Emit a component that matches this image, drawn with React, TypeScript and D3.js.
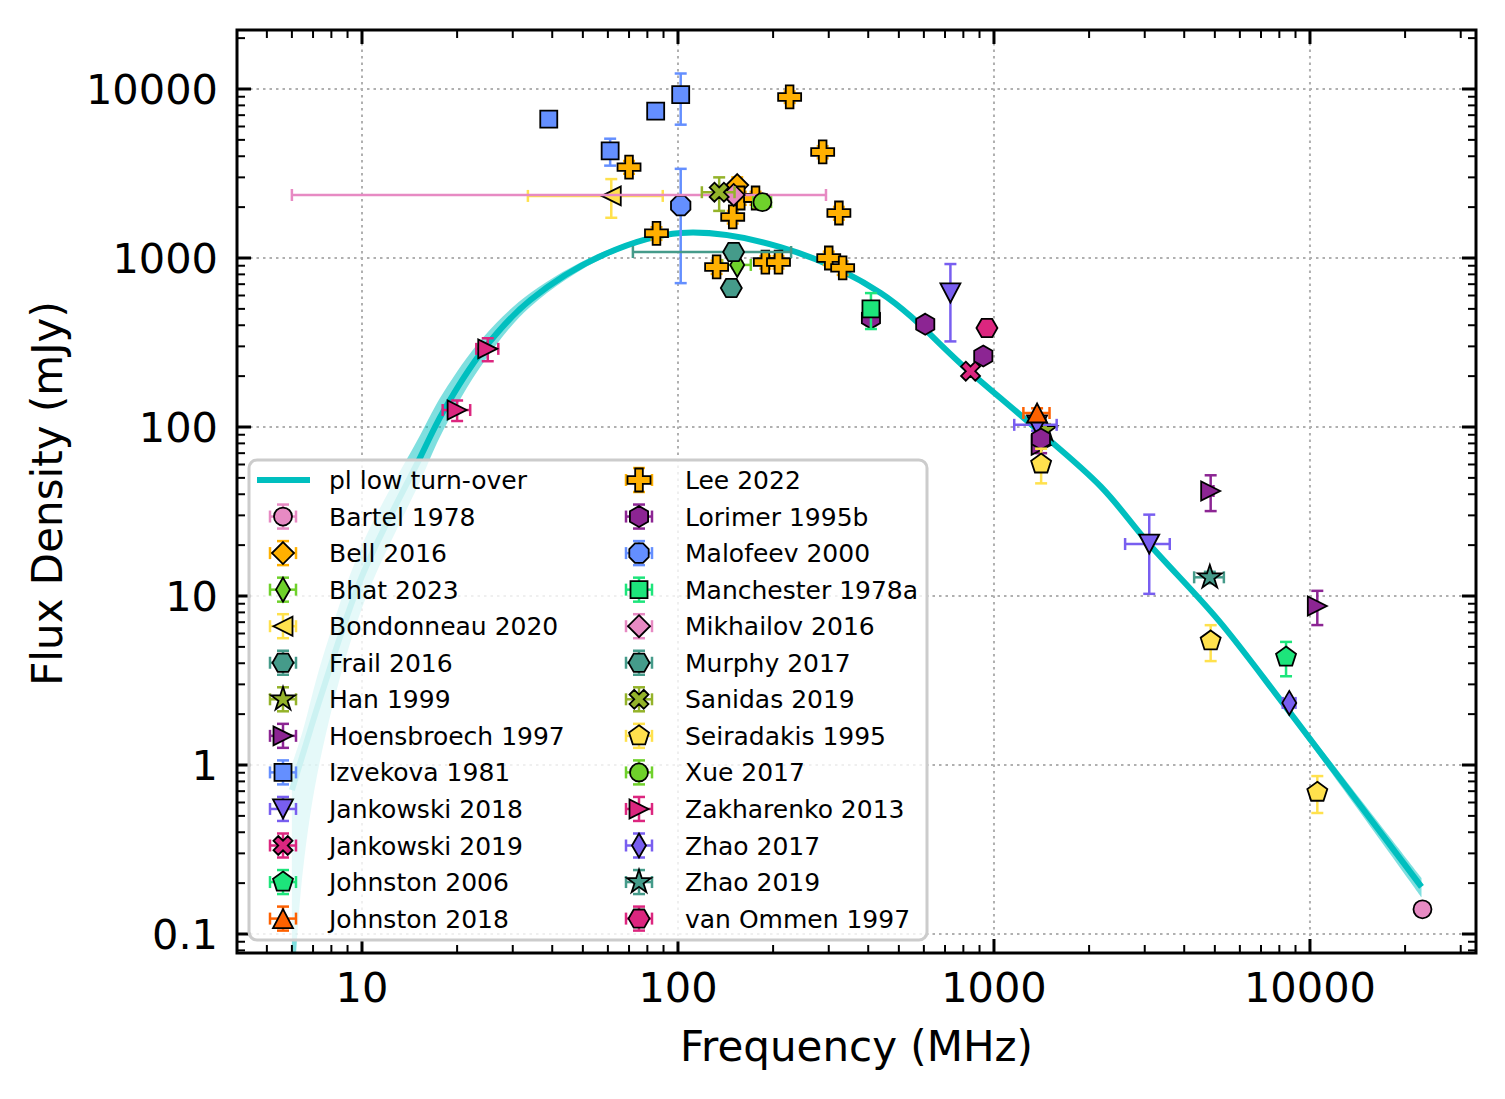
import * as d3 from "d3";

const WIDTH = 1505;
const HEIGHT = 1099;
const plotLeft = 237;
const plotRight = 1476;
const plotTop = 30;
const plotBottom = 953;

const xDomain = [4.022, 33530];
const yDomain = [0.0772, 22340];
const xTicks = [10, 100, 1000, 10000];
const xTickLabels = ["10", "100", "1000", "10000"];
const yTicks = [0.1, 1, 10, 100, 1000, 10000];
const yTickLabels = ["0.1", "1", "10", "100", "1000", "10000"];

// fitted spectrum (pl low turn-over)
const fitFreq = [6.0, 6.5, 7.47, 10, 15.3, 18.1, 24.2, 34.1, 58.9, 102, 211, 438, 827, 1340, 2183, 3076, 5129, 8299, 22540];
const fitFlux = [0.711, 1.16, 2.67, 13.1, 66.4, 124, 286, 564, 1056, 1406, 1161, 621, 217, 100, 44.2, 20.6, 7.2, 2.26, 0.19];
const fitLow = [0.03, 0.236, 1.2, 8.5, 48, 96, 240, 515, 1015, 1375, 1140, 610, 213, 98, 43.2, 20.1, 6.95, 2.15, 0.165];
const fitHigh = [1.0, 1.6, 4.2, 20, 90, 160, 340, 620, 1100, 1440, 1185, 632, 221, 102, 45.2, 21.1, 7.45, 2.37, 0.215];

// [freq MHz, flux mJy, flux err, freq err]
type Pt = [number, number, number, number];
const bartel1978: Pt[] = [[22700, 0.14, 0, 0]];
const bell2016: Pt[] = [[154, 2700, 300, 0]];
const bhat2023: Pt[] = [[154, 910, 40, 16]];
const bondonneau2020: Pt[] = [[61.5, 2330, 600, 28]];
const frail2016: Pt[] = [[147.5, 664, 60, 0]];
const han1999: Pt[] = [[1450, 96, 8, 0]];
const hoensbroech1997: Pt[] = [[1410, 78, 8, 0], [4850, 41.8, 10, 100], [10550, 8.73, 2, 0]];
const izvekova1981: Pt[] = [[39, 6640, 300, 0], [61, 4300, 780, 0], [85, 7400, 700, 0], [102, 9250, 3100, 0]];
const jankowski2018: Pt[] = [[728, 621, 300, 0], [1369, 103, 8, 210], [3100, 20.3, 10, 500]];
const jankowski2019: Pt[] = [[843, 214, 15, 0]];
const johnston2006: Pt[] = [[8400, 4.35, 1, 0]];
const johnston2018: Pt[] = [[1369, 121, 8, 130]];
const lee2022: Pt[] = [
  [70, 3450, 300, 0], [85.5, 1400, 120, 0], [132.5, 885, 80, 0], [149, 1750, 150, 0],
  [158, 2265, 200, 0], [176, 2265, 200, 0], [189, 946, 80, 0], [208, 946, 80, 0],
  [225.6, 8970, 700, 0], [287, 4240, 350, 0], [300, 1000, 90, 0], [323, 1846, 160, 0], [332, 874, 80, 0],
];
const lorimer1995b: Pt[] = [[408, 441, 40, 0], [606, 406, 30, 0], [925, 263, 20, 0], [1408, 85, 7, 0]];
const malofeev2000: Pt[] = [[102, 2040, 1330, 0]];
const manchester1978a: Pt[] = [[408, 500, 120, 0]];
const mikhailov2016: Pt[] = [[150, 2360, 150, 144]];
const murphy2017: Pt[] = [[150, 1085, 60, 78]];
const sanidas2019: Pt[] = [[135, 2450, 550, 16]];
const seiradakis1995: Pt[] = [[1410, 60.4, 14, 0], [4850, 5.42, 1.3, 0], [10550, 0.69, 0.17, 0]];
const xue2017: Pt[] = [[185, 2140, 100, 12]];
const zakharenko2013: Pt[] = [[20, 126, 17.5, 2], [25, 290, 45, 2]];
const zhao2017: Pt[] = [[8600, 2.33, 0.1, 400]];
const zhao2019: Pt[] = [[4820, 12.9, 1, 520]];
const vanOmmen1997: Pt[] = [[950, 385, 20, 0]];

const datasets: { name: string; color: string; marker: string; data: Pt[] }[] = [
  { name: "Bartel 1978", color: "#e78ac3", marker: "o", data: bartel1978 },
  { name: "Bell 2016", color: "#ffb000", marker: "D", data: bell2016 },
  { name: "Bhat 2023", color: "#6fd12b", marker: "d", data: bhat2023 },
  { name: "Bondonneau 2020", color: "#ffe14d", marker: "<", data: bondonneau2020 },
  { name: "Frail 2016", color: "#459b8a", marker: "H", data: frail2016 },
  { name: "Han 1999", color: "#94b32a", marker: "*", data: han1999 },
  { name: "Hoensbroech 1997", color: "#8c2593", marker: ">", data: hoensbroech1997 },
  { name: "Izvekova 1981", color: "#648fff", marker: "s", data: izvekova1981 },
  { name: "Jankowski 2018", color: "#785ef0", marker: "v", data: jankowski2018 },
  { name: "Jankowski 2019", color: "#dc267f", marker: "X", data: jankowski2019 },
  { name: "Johnston 2006", color: "#1de57b", marker: "p", data: johnston2006 },
  { name: "Johnston 2018", color: "#fe6100", marker: "^", data: johnston2018 },
  { name: "Lee 2022", color: "#ffb000", marker: "P", data: lee2022 },
  { name: "Lorimer 1995b", color: "#8c2593", marker: "h", data: lorimer1995b },
  { name: "Malofeev 2000", color: "#648fff", marker: "8", data: malofeev2000 },
  { name: "Manchester 1978a", color: "#1de57b", marker: "s", data: manchester1978a },
  { name: "Mikhailov 2016", color: "#e78ac3", marker: "D", data: mikhailov2016 },
  { name: "Murphy 2017", color: "#459b8a", marker: "H", data: murphy2017 },
  { name: "Sanidas 2019", color: "#94b32a", marker: "X", data: sanidas2019 },
  { name: "Seiradakis 1995", color: "#ffe14d", marker: "p", data: seiradakis1995 },
  { name: "Xue 2017", color: "#6fd12b", marker: "o", data: xue2017 },
  { name: "Zakharenko 2013", color: "#dc267f", marker: ">", data: zakharenko2013 },
  { name: "Zhao 2017", color: "#785ef0", marker: "d", data: zhao2017 },
  { name: "Zhao 2019", color: "#459b8a", marker: "*", data: zhao2019 },
  { name: "van Ommen 1997", color: "#dc267f", marker: "H", data: vanOmmen1997 },
];

const FIT_COLOR = "#00bfbf";

function poly(n: number, r: number, rot: number) {
  const pts = d3.range(n).map((i) => {
    const a = ((rot + (i * 360) / n) * Math.PI) / 180;
    return [r * Math.sin(a), -r * Math.cos(a)];
  });
  return "M" + pts.map((p) => p[0].toFixed(2) + "," + p[1].toFixed(2)).join("L") + "Z";
}

function starPath(r: number) {
  const inner = r * 0.381966;
  const pts = d3.range(10).map((i) => {
    const a = (i * 36 * Math.PI) / 180;
    const rr = i % 2 === 0 ? r : inner;
    return [rr * Math.sin(a), -rr * Math.cos(a)];
  });
  return "M" + pts.map((p) => p[0].toFixed(2) + "," + p[1].toFixed(2)).join("L") + "Z";
}

function scaled(pts: number[][], k: number) {
  return "M" + pts.map((p) => (p[0] * k).toFixed(2) + "," + (p[1] * k).toFixed(2)).join("L") + "Z";
}

function markerPath(m: string) {
  switch (m) {
    case "o":
      return "M9,0A9,9 0 1,1 -9,0A9,9 0 1,1 9,0Z";
    case "s":
      return "M-8.5,-8.5L8.5,-8.5L8.5,8.5L-8.5,8.5Z";
    case "D":
      return "M0,-11L11,0L0,11L-11,0Z";
    case "d":
      return "M0,-12L7,0L0,12L-7,0Z";
    case "<":
      return "M-9.5,0L9.5,-9.5L9.5,9.5Z";
    case ">":
      return "M9.5,0L-9.5,-9.5L-9.5,9.5Z";
    case "v":
      return "M0,9.5L-10,-9.5L10,-9.5Z";
    case "^":
      return "M0,-9.5L-10,9.5L10,9.5Z";
    case "p":
      return poly(5, 10.5, 0);
    case "h":
      return poly(6, 10.5, 0);
    case "H":
      return poly(6, 10.5, 30);
    case "8":
      return poly(8, 10.5, 22.5);
    case "*":
      return starPath(12.5);
    case "P":
      return scaled(
        [[-1, -3], [1, -3], [1, -1], [3, -1], [3, 1], [1, 1], [1, 3], [-1, 3], [-1, 1], [-3, 1], [-3, -1], [-1, -1]],
        23 / 6
      );
    case "X":
      return scaled(
        [[-1, -2], [0, -1], [1, -2], [2, -1], [1, 0], [2, 1], [1, 2], [0, 1], [-1, 2], [-2, 1], [-1, 0], [-2, -1]],
        19 / 4
      );
    default:
      return "";
  }
}

function decadeMultiples(lo: number, hi: number) {
  const out: number[] = [];
  for (let p = -3; p <= 5; p++) {
    for (let k = 2; k <= 9; k++) {
      const v = k * Math.pow(10, p);
      if (v > lo && v < hi) out.push(v);
    }
  }
  return out;
}

export default function App() {
  const x = d3.scaleLog().domain(xDomain).range([plotLeft, plotRight]);
  const y = d3.scaleLog().domain(yDomain).range([plotBottom, plotTop]);

  const fitLine = d3
    .line<number>()
    .x((_, i) => x(fitFreq[i]))
    .y((d) => y(d))
    .curve(d3.curveCatmullRom);
  const fitBand = d3
    .area<number>()
    .x((_, i) => x(fitFreq[i]))
    .y0((_, i) => y(fitLow[i]))
    .y1((_, i) => y(fitHigh[i]))
    .curve(d3.curveCatmullRom);

  const xMinor = decadeMultiples(xDomain[0], xDomain[1]);
  const yMinor = decadeMultiples(yDomain[0], yDomain[1]);

  const cap = 6;
  const errW = 2.5;

  const legendRows = 13;
  const rowY = (i: number) => 480 + i * 36.55;
  const legendEntries = datasets.map((d, i) => {
    const slot = i + 1;
    const col = Math.floor(slot / legendRows);
    const row = slot % legendRows;
    return { ...d, mx: col === 0 ? 283 : 639, tx: col === 0 ? 329 : 685, my: rowY(row) };
  });

  return (
    <svg
      width={WIDTH}
      height={HEIGHT}
      style={{ position: "absolute", left: 0, top: 0, background: "#fff" }}
      fontFamily="DejaVu Sans"
    >
      <defs>
        <clipPath id="plotClip">
          <rect x={plotLeft} y={plotTop} width={plotRight - plotLeft} height={plotBottom - plotTop} />
        </clipPath>
      </defs>
      <rect x={0} y={0} width={WIDTH} height={HEIGHT} fill="#fff" />

      {/* grid */}
      <g stroke="#b0b0b0" strokeWidth={2} strokeDasharray="2.5,4">
        {xTicks.map((t) => (
          <line key={"gx" + t} x1={x(t)} x2={x(t)} y1={plotTop} y2={plotBottom} />
        ))}
        {yTicks.map((t) => (
          <line key={"gy" + t} x1={plotLeft} x2={plotRight} y1={y(t)} y2={y(t)} />
        ))}
      </g>

      {/* fit */}
      <g clipPath="url(#plotClip)">
        <path d={fitBand(fitFlux) || ""} fill={FIT_COLOR} fillOpacity={0.5} stroke="none" />
        <path d={fitLine(fitFlux) || ""} fill="none" stroke={FIT_COLOR} strokeWidth={6} />
      </g>

      {/* data */}
      {datasets.map((ds) => (
        <g key={ds.name}>
          {ds.data.map((p, i) => {
            const cx = x(p[0]);
            const cy = y(p[1]);
            const yTop = y(p[1] + p[2]);
            const yBot = y(Math.max(p[1] - p[2], yDomain[0] * 0.5));
            const xL = x(Math.max(p[0] - p[3], 1));
            const xR = x(p[0] + p[3]);
            return (
              <g key={i} stroke={ds.color} strokeWidth={errW}>
                {p[2] > 0 && (
                  <g>
                    <line x1={cx} x2={cx} y1={yTop} y2={yBot} />
                    <line x1={cx - cap} x2={cx + cap} y1={yTop} y2={yTop} />
                    <line x1={cx - cap} x2={cx + cap} y1={yBot} y2={yBot} />
                  </g>
                )}
                {p[3] > 0 && (
                  <g>
                    <line x1={xL} x2={xR} y1={cy} y2={cy} />
                    <line x1={xL} x2={xL} y1={cy - cap} y2={cy + cap} />
                    <line x1={xR} x2={xR} y1={cy - cap} y2={cy + cap} />
                  </g>
                )}
              </g>
            );
          })}
          {ds.data.map((p, i) => (
            <path
              key={"m" + i}
              d={markerPath(ds.marker)}
              transform={`translate(${x(p[0])},${y(p[1])})`}
              fill={ds.color}
              stroke="#000"
              strokeWidth={1.8}
              strokeLinejoin="miter"
            />
          ))}
        </g>
      ))}

      {/* ticks */}
      <g stroke="#000">
        {xTicks.map((t) => (
          <g key={"xt" + t} strokeWidth={3}>
            <line x1={x(t)} x2={x(t)} y1={plotBottom} y2={plotBottom - 14} />
            <line x1={x(t)} x2={x(t)} y1={plotTop} y2={plotTop + 14} />
          </g>
        ))}
        {xMinor.map((t) => (
          <g key={"xm" + t} strokeWidth={2}>
            <line x1={x(t)} x2={x(t)} y1={plotBottom} y2={plotBottom - 8} />
            <line x1={x(t)} x2={x(t)} y1={plotTop} y2={plotTop + 8} />
          </g>
        ))}
        {yTicks.map((t) => (
          <g key={"yt" + t} strokeWidth={3}>
            <line x1={plotLeft} x2={plotLeft + 14} y1={y(t)} y2={y(t)} />
            <line x1={plotRight} x2={plotRight - 14} y1={y(t)} y2={y(t)} />
          </g>
        ))}
        {yMinor.map((t) => (
          <g key={"ym" + t} strokeWidth={2}>
            <line x1={plotLeft} x2={plotLeft + 8} y1={y(t)} y2={y(t)} />
            <line x1={plotRight} x2={plotRight - 8} y1={y(t)} y2={y(t)} />
          </g>
        ))}
      </g>
      <rect
        x={plotLeft}
        y={plotTop}
        width={plotRight - plotLeft}
        height={plotBottom - plotTop}
        fill="none"
        stroke="#000"
        strokeWidth={3}
      />

      {/* tick labels */}
      <g fontSize={41.5} fill="#000">
        {xTicks.map((t, i) => (
          <text key={"xl" + t} x={x(t)} y={1002} textAnchor="middle">
            {xTickLabels[i]}
          </text>
        ))}
        {yTicks.map((t, i) => (
          <text key={"yl" + t} x={218} y={y(t) + 15} textAnchor="end">
            {yTickLabels[i]}
          </text>
        ))}
      </g>
      <text x={(plotLeft + plotRight) / 2} y={1061} textAnchor="middle" fontSize={42}>
        Frequency (MHz)
      </text>
      <text
        transform={`translate(62,${(plotTop + plotBottom) / 2 + 2}) rotate(-90)`}
        textAnchor="middle"
        fontSize={42}
      >
        Flux Density (mJy)
      </text>

      {/* legend */}
      <g>
        <rect x={249} y={460} width={678} height={480} rx={8} fill="#fff" fillOpacity={0.8} stroke="#cccccc" strokeWidth={3} />
        <line x1={257} x2={310} y1={rowY(0)} y2={rowY(0)} stroke={FIT_COLOR} strokeWidth={6} />
        <text x={329} y={rowY(0) + 9} fontSize={25}>
          pl low turn-over
        </text>
        {legendEntries.map((e) => (
          <g key={"lg" + e.name}>
            <g stroke={e.color} strokeWidth={errW}>
              <line x1={e.mx} x2={e.mx} y1={e.my - 12} y2={e.my + 12} />
              <line x1={e.mx - cap} x2={e.mx + cap} y1={e.my - 12} y2={e.my - 12} />
              <line x1={e.mx - cap} x2={e.mx + cap} y1={e.my + 12} y2={e.my + 12} />
              <line x1={e.mx - 13} x2={e.mx + 13} y1={e.my} y2={e.my} />
              <line x1={e.mx - 13} x2={e.mx - 13} y1={e.my - cap} y2={e.my + cap} />
              <line x1={e.mx + 13} x2={e.mx + 13} y1={e.my - cap} y2={e.my + cap} />
            </g>
            <path
              d={markerPath(e.marker)}
              transform={`translate(${e.mx},${e.my})`}
              fill={e.color}
              stroke="#000"
              strokeWidth={1.8}
            />
            <text x={e.tx} y={e.my + 9} fontSize={25}>
              {e.name}
            </text>
          </g>
        ))}
      </g>
    </svg>
  );
}
